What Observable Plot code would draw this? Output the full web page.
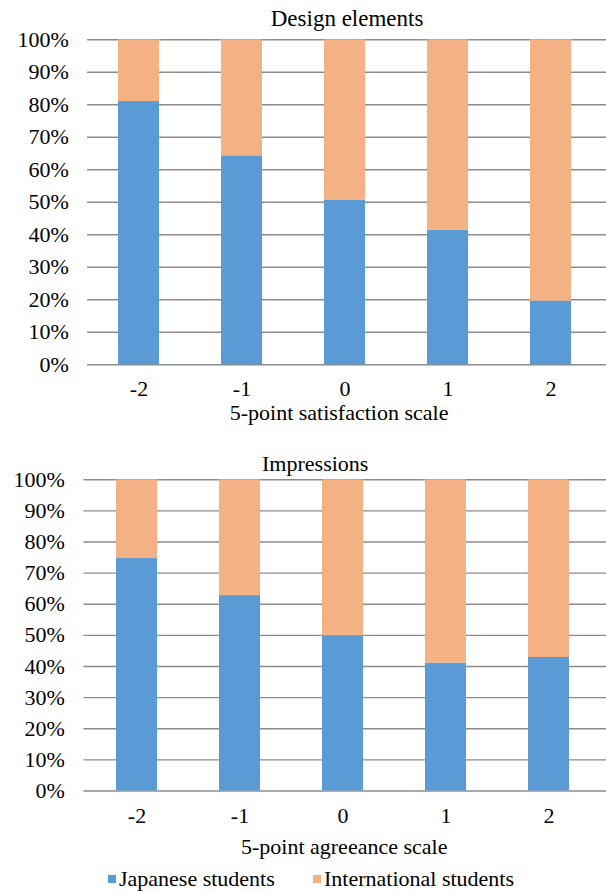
<!DOCTYPE html>
<html><head><meta charset="utf-8">
<script src="https://cdn.jsdelivr.net/npm/d3@7"></script>
<script src="https://cdn.jsdelivr.net/npm/@observablehq/plot@0.6"></script>
<style>
body{margin:0;background:#fff;}
#root{width:606px;height:893px;position:relative;overflow:hidden;color:#000;font-family:'Liberation Serif', serif;}
.panel{position:absolute;left:0;}
.legend-item{position:absolute;top:867px;font-size:22px;line-height:24px;white-space:nowrap;display:flex;align-items:center;font-family:'Liberation Serif', serif;}
.legend-item span.sw{display:inline-block;width:8px;height:8px;margin-right:3px;}
</style></head><body>
<div id="root"></div>
<script>
const scalePoints = ["-2", "-1", "0", "1", "2"];
const seriesNames = ["Japanese students", "International students"];
const seriesColors = ["#5B9BD5", "#F4B183"];
const yTickValues = [0, 10, 20, 30, 40, 50, 60, 70, 80, 90, 100];

const designTitle = "Design elements";
const designAxisLabel = "5-point satisfaction scale";
const designJapanese = [81.0, 64.3, 50.6, 41.4, 19.6];
const designInternational = [19.0, 35.7, 49.4, 58.6, 80.4];

const impressionsTitle = "Impressions";
const impressionsAxisLabel = "5-point agreeance scale";
const impressionsJapanese = [74.7, 62.8, 49.9, 41.1, 42.9];
const impressionsInternational = [25.3, 37.2, 50.1, 58.9, 57.1];

const FONT = "Liberation Serif";

function makePanel(o) {
  const rows = [];
  scalePoints.forEach((s, i) => rows.push({x: s, group: seriesNames[0], value: o.japanese[i]}));
  scalePoints.forEach((s, i) => rows.push({x: s, group: seriesNames[1], value: o.international[i]}));
  return Plot.plot({
    width: 606,
    height: o.height,
    marginTop: o.marginTop,
    marginBottom: o.marginBottom,
    marginLeft: o.marginLeft,
    marginRight: 0,
    style: {fontFamily: FONT, fontSize: "22px"},
    x: {domain: scalePoints, range: o.xRange, paddingInner: 0.6, paddingOuter: 0.3},
    y: {domain: [0, 100]},
    color: {domain: seriesNames, range: seriesColors},
    marks: [
      Plot.ruleY(yTickValues, {stroke: "#8c8c8c", strokeWidth: 1.4}),
      Plot.barY(rows, Plot.stackY({x: "x", y: "value", fill: "group", order: null})),
      Plot.axisX({tickSize: 0, tickPadding: o.xTickPadding, label: null, fontSize: 22}),
      Plot.axisY({ticks: yTickValues, tickSize: 0, tickPadding: o.yTickPadding, tickFormat: d => d + "%", label: null, fontSize: 22}),
      Plot.text([o.title], {frameAnchor: "top", dy: o.titleDy, dx: o.titleDx, lineAnchor: "bottom", fontSize: o.titleSize}),
      Plot.text([o.axisLabel], {frameAnchor: "bottom", dy: o.labelDy, dx: o.labelDx, lineAnchor: "bottom", fontSize: o.labelSize})
    ]
  });
}

const root = document.getElementById("root");
const p1 = makePanel({
  title: designTitle, axisLabel: designAxisLabel,
  japanese: designJapanese, international: designInternational,
  height: 440, marginTop: 39.3, marginBottom: 75.7, marginLeft: 87.1,
  xRange: [87.1, 602.6], xTickPadding: 16.0, yTickPadding: 18.7,
  titleDy: -14.3, titleDx: 0, titleSize: 23,
  labelDy: 55.5, labelDx: -8, labelSize: 22
});
p1.classList.add("panel"); p1.style.top = "0px";
root.appendChild(p1);

const p2 = makePanel({
  title: impressionsTitle, axisLabel: impressionsAxisLabel,
  japanese: impressionsJapanese, international: impressionsInternational,
  height: 420, marginTop: 39.3, marginBottom: 69.5, marginLeft: 83.4,
  xRange: [83.4, 602.4], xTickPadding: 16.0, yTickPadding: 19.1,
  titleDy: -8.5, titleDx: -30, titleSize: 22,
  labelDy: 62.5, labelDx: -1, labelSize: 22
});
p2.classList.add("panel"); p2.style.top = "440px";
root.appendChild(p2);

const legendLefts = [108, 313];
seriesNames.forEach((name, i) => {
  const d = document.createElement("div");
  d.className = "legend-item";
  d.style.left = legendLefts[i] + "px";
  const sw = document.createElement("span");
  sw.className = "sw";
  sw.style.background = seriesColors[i];
  d.appendChild(sw);
  d.appendChild(document.createTextNode(name));
  root.appendChild(d);
});
</script>
</body></html>
